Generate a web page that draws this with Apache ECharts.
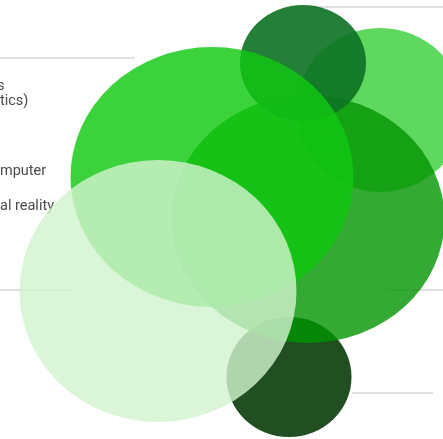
<!DOCTYPE html>
<html>
<head>
<meta charset="utf-8">
<script src="https://cdn.jsdelivr.net/npm/echarts@6/dist/echarts.min.js"></script>
<style>
  html, body { margin: 0; padding: 0; background: #fff; }
  #chart { width: 443px; height: 439px; }
</style>
</head>
<body>
<div id="chart"></div>
<script>
// bubbles, bottom layer first
const bubbleX = [289, 380, 308, 303, 212, 158];
const bubbleY = [377, 110, 219, 63, 177, 291];
const bubbleW = [125, 168, 273, 126, 283, 277];
const bubbleH = [120, 164, 248, 116, 260, 262];
const bubbleColors = ['#214f22', '#5ed85e', '#019501', '#0c7224', '#11c811', '#d1f3cf'];
const bubbleAlpha = [1, 1, 0.8, 0.9, 0.82, 0.81];

// leader lines: [x from, x to, y]
const guides = [[0, 135, 58], [310, 443, 7], [0, 70, 290], [387, 443, 290], [352, 433, 393]];

// cropped label fragments
const labelText = ['s', 'tics)', 'mputer', 'al reality'];
const labelX = [-3, 0, 0, 0];
const labelY = [88, 103, 173, 208];

const chart = echarts.init(document.getElementById('chart'));

const bubbles = bubbleX.map((x, i) => ({
  value: [x, bubbleY[i]],
  symbolSize: [bubbleW[i], bubbleH[i]],
  itemStyle: { color: bubbleColors[i], opacity: bubbleAlpha[i] }
}));

chart.setOption({
  animation: false,
  grid: { left: 0, right: 0, top: 0, bottom: 0 },
  xAxis: { type: 'value', min: 0, max: 443, show: false },
  yAxis: { type: 'value', min: 0, max: 439, inverse: true, show: false },
  graphic: labelText.map((t, i) => ({
    type: 'text',
    left: labelX[i],
    top: labelY[i] - 9,
    z: 0,
    style: { text: t, fill: '#4a4a4a', font: '14.5px Roboto' }
  })),
  series: [
    {
      type: 'line',
      z: 0,
      data: [],
      markLine: {
        z: 0,
        silent: true,
        symbol: 'none',
        label: { show: false },
        lineStyle: { color: '#d6d6d6', width: 1.5, type: 'solid' },
        data: guides.map(g => [{ coord: [g[0], g[2]] }, { coord: [g[1], g[2]] }])
      }
    },
    {
      type: 'scatter',
      z: 3,
      symbol: 'circle',
      data: bubbles,
      emphasis: { disabled: true }
    }
  ]
});
</script>
</body>
</html>
